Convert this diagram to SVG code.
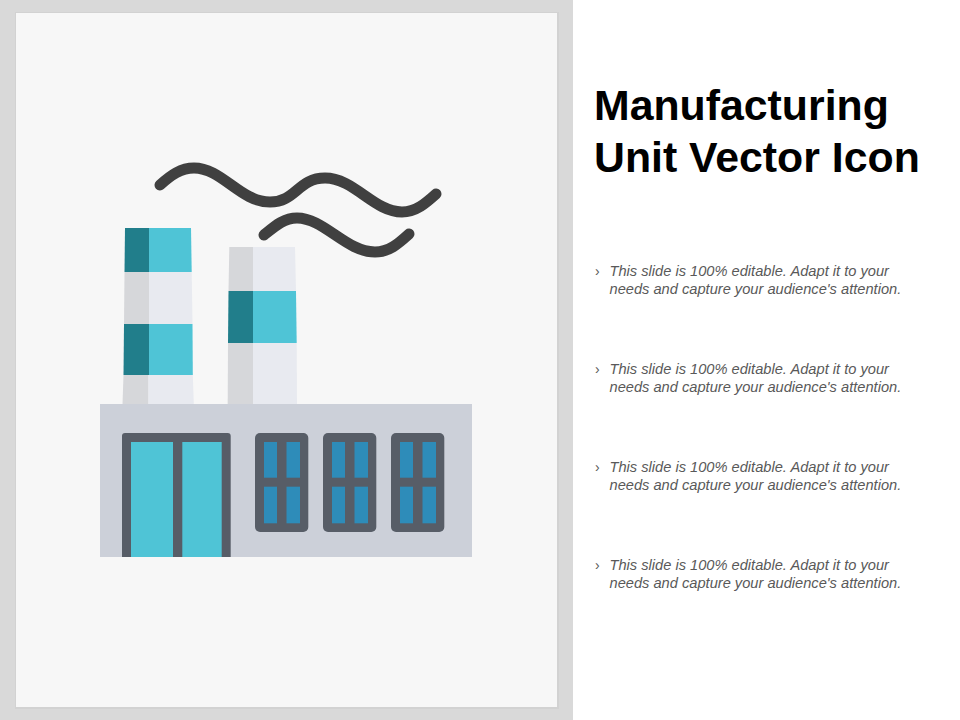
<svg xmlns="http://www.w3.org/2000/svg" width="960" height="720" viewBox="0 0 960 720">
<style>
.t{font-family:"Liberation Sans",Arial,sans-serif}
.title{font-size:42.8px;font-weight:bold;fill:#000}
.body{font-size:14.65px;font-style:italic;fill:#595959}
.bullet{font-size:14px;fill:#595959}
.smoke{fill:none;stroke:#404040;stroke-width:11;stroke-linecap:round;stroke-linejoin:round}
.teal{fill:#4fc4d6}.dteal{fill:#217e8b}.lg{fill:#e8eaf0}.dg{fill:#d6d7da}
.frame{fill:#575d67}.pane{fill:#2e8cb9}
</style>
<defs>
<g id="win">
<rect x="255" y="433" width="53.3" height="99" rx="5" class="frame"/>
<rect x="264" y="442" width="13" height="35.700" class="pane"/>
<rect x="286.500" y="442" width="13.500" height="35.700" class="pane"/>
<rect x="264" y="486.700" width="13" height="36.600" class="pane"/>
<rect x="286.500" y="486.700" width="13.500" height="36.600" class="pane"/>
</g>
</defs>
<rect width="960" height="720" fill="#fff"/>
<rect width="573" height="720" fill="#d9d9d9"/>
<rect x="15" y="12" width="544" height="697" fill="#d2d2d2"/>
<rect x="16" y="13" width="541" height="694" fill="#f7f7f7"/>
<g id="chimney1">
<polygon class="dteal" points="125,228 149,228 149,272 124.500,272"/>
<polygon class="teal" points="149,228 191,228 191.700,272 149,272"/>
<polygon class="dg" points="124.500,272 149,272 149,324 124,324"/>
<polygon class="lg" points="149,272 191.700,272 192.500,324 149,324"/>
<polygon class="dteal" points="124,324 149,324 149,375 123.500,375"/>
<polygon class="teal" points="149,324 192.500,324 192.800,375 149,375"/>
<polygon class="dg" points="123.500,375 148.500,375 148.500,404 122.500,404"/>
<polygon class="lg" points="148.500,375 192.800,375 193.800,404 148.500,404"/>
</g>
<g id="chimney2">
<polygon class="dg" points="229.300,247 253,247 253,291 228.500,291"/>
<polygon class="lg" points="253,247 295,247 296,291 253,291"/>
<polygon class="dteal" points="228.500,291 253,291 253,343 228,343"/>
<polygon class="teal" points="253,291 296,291 296.700,343 253,343"/>
<polygon class="dg" points="228,343 253,343 253,404 227.700,404"/>
<polygon class="lg" points="253,343 296.700,343 297,404 253,404"/>
</g>
<g id="smoke">
<path class="smoke" d="M160,185C171,175 181,168 194,168C222,168 240,202 270,202C296,202 298,178 325,178C354,178 374,212 402,212C416,212 426,203 436,194"/>
<path class="smoke" d="M264,235C275,226 284,218 297,218C324,218 346,252 375,252C389,252 398,244 409,234"/>
</g>
<g id="building">
<rect x="100" y="404" width="372" height="153" fill="#ccd0d9"/>
<path class="frame" d="M122,557V436a3,3 0 0 1 3,-3H227.700a3,3 0 0 1 3,3V557Z"/>
<rect x="131" y="442" width="42" height="115" class="teal"/>
<rect x="182.300" y="442" width="39.400" height="115" class="teal"/>
<use href="#win"/>
<use href="#win" x="68"/>
<use href="#win" x="136"/>
</g>
<g id="title" class="t title">
<text x="594" y="119.500">Manufacturing</text>
<text x="594" y="172">Unit Vector Icon</text>
</g>
<g id="item1" class="t">
<text x="595" y="275.500" class="bullet">›</text>
<text x="609.500" y="275.500" class="body">This slide is 100% editable. Adapt it to your</text>
<text x="609.500" y="294" class="body">needs and capture your audience's attention.</text>
</g>
<g id="item2" class="t">
<text x="595" y="373.500" class="bullet">›</text>
<text x="609.500" y="373.500" class="body">This slide is 100% editable. Adapt it to your</text>
<text x="609.500" y="392" class="body">needs and capture your audience's attention.</text>
</g>
<g id="item3" class="t">
<text x="595" y="471.500" class="bullet">›</text>
<text x="609.500" y="471.500" class="body">This slide is 100% editable. Adapt it to your</text>
<text x="609.500" y="490" class="body">needs and capture your audience's attention.</text>
</g>
<g id="item4" class="t">
<text x="595" y="569.500" class="bullet">›</text>
<text x="609.500" y="569.500" class="body">This slide is 100% editable. Adapt it to your</text>
<text x="609.500" y="588" class="body">needs and capture your audience's attention.</text>
</g>
</svg>
